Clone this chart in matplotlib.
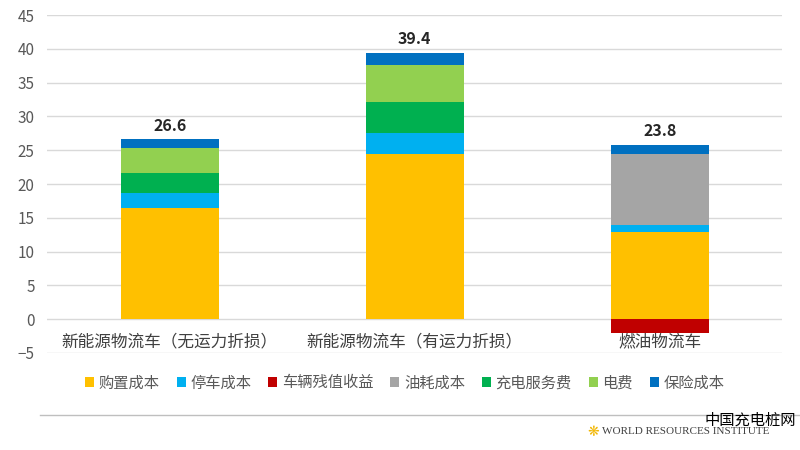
import matplotlib.pyplot as plt
import matplotlib.lines as mlines
import numpy as np

plt.rcParams['font.family'] = ['Noto Sans CJK SC', 'DejaVu Sans']

# Data
categories = ['新能源物流车（无运力折损）', '新能源物流车（有运力折损）', '燃油物流车']
purchase = [16.5, 24.4, 12.9]
parking = [2.1, 3.2, 1.0]
residual = [0, 0, -2.0]
fuel = [0, 0, 10.6]
charging_service = [3.0, 4.5, 0]
electricity = [3.7, 5.5, 0]
insurance = [1.3, 1.8, 1.3]
totals = [26.6, 39.4, 23.8]

series_names = ['购置成本', '停车成本', '车辆残值收益', '油耗成本', '充电服务费', '电费', '保险成本']
colors = ['#FFC000', '#00B0F0', '#C00000', '#A5A5A5', '#00B050', '#92D050', '#0070C0']
yticks = [-5, 0, 5, 10, 15, 20, 25, 30, 35, 40, 45]

fig = plt.figure(figsize=(8, 4.5), dpi=100)
ax = fig.add_axes([0.059, 0.2156, 0.919, 0.751])

x = np.arange(len(categories))
w = 0.4
pos_series = [purchase, parking, fuel, charging_service, electricity, insurance]
pos_names = ['购置成本', '停车成本', '油耗成本', '充电服务费', '电费', '保险成本']
bottom = np.zeros(len(categories))
handles = {}
for vals, name in zip(pos_series, pos_names):
    c = colors[series_names.index(name)]
    b = ax.bar(x, vals, w, bottom=bottom, color=c, zorder=3)
    handles[name] = b
    bottom += np.array(vals)
b = ax.bar(x, residual, w, color=colors[2], zorder=3)
handles['车辆残值收益'] = b

# total labels above the stacks
for xi, top, t in zip(x, bottom, totals):
    ax.annotate(f'{t:.1f}', (xi, top), xytext=(0, 4), textcoords='offset points',
                ha='center', va='bottom', fontsize=11.5, fontweight='bold', color='#262626')

# category labels just below zero line
for xi, cat in zip(x, categories):
    ax.annotate(cat, (xi, 0), xytext=(0, -10.5), textcoords='offset points',
                ha='center', va='top', fontsize=12, color='#404040')

ax.set_xlim(-0.5, 2.5)
ax.set_ylim(-5, 45)
ax.set_yticks(yticks)
ax.set_xticks([])
ax.tick_params(axis='y', length=0, labelsize=11, labelcolor='#595959', pad=9)
ax.grid(axis='y', color='#D9D9D9', linewidth=1, zorder=0)
for s in ax.spines.values():
    s.set_visible(False)

leg = fig.legend([handles[n] for n in series_names], series_names, loc='center',
                 bbox_to_anchor=(0.506, 0.149), ncol=7, frameon=False, fontsize=11,
                 handlelength=0.6, handleheight=0.6, handletextpad=0.3, columnspacing=1.1)
for t in leg.get_texts():
    t.set_color('#595959')

# footer
fig.add_artist(mlines.Line2D([0.05, 1.0], [0.078, 0.078], color='#BFBFBF', linewidth=1))
fig.text(0.995, 0.067, '中国充电桩网', ha='right', va='center', fontsize=11, color='#000000')
fig.text(0.962, 0.04, 'WORLD RESOURCES INSTITUTE', ha='right', va='center', fontsize=8,
         family='Liberation Serif', color='#404040')
fig.text(0.742, 0.04, '❋', ha='center', va='center', fontsize=10, color='#F2B705',
         family='DejaVu Sans')

fig.savefig('out.png', dpi=100)
